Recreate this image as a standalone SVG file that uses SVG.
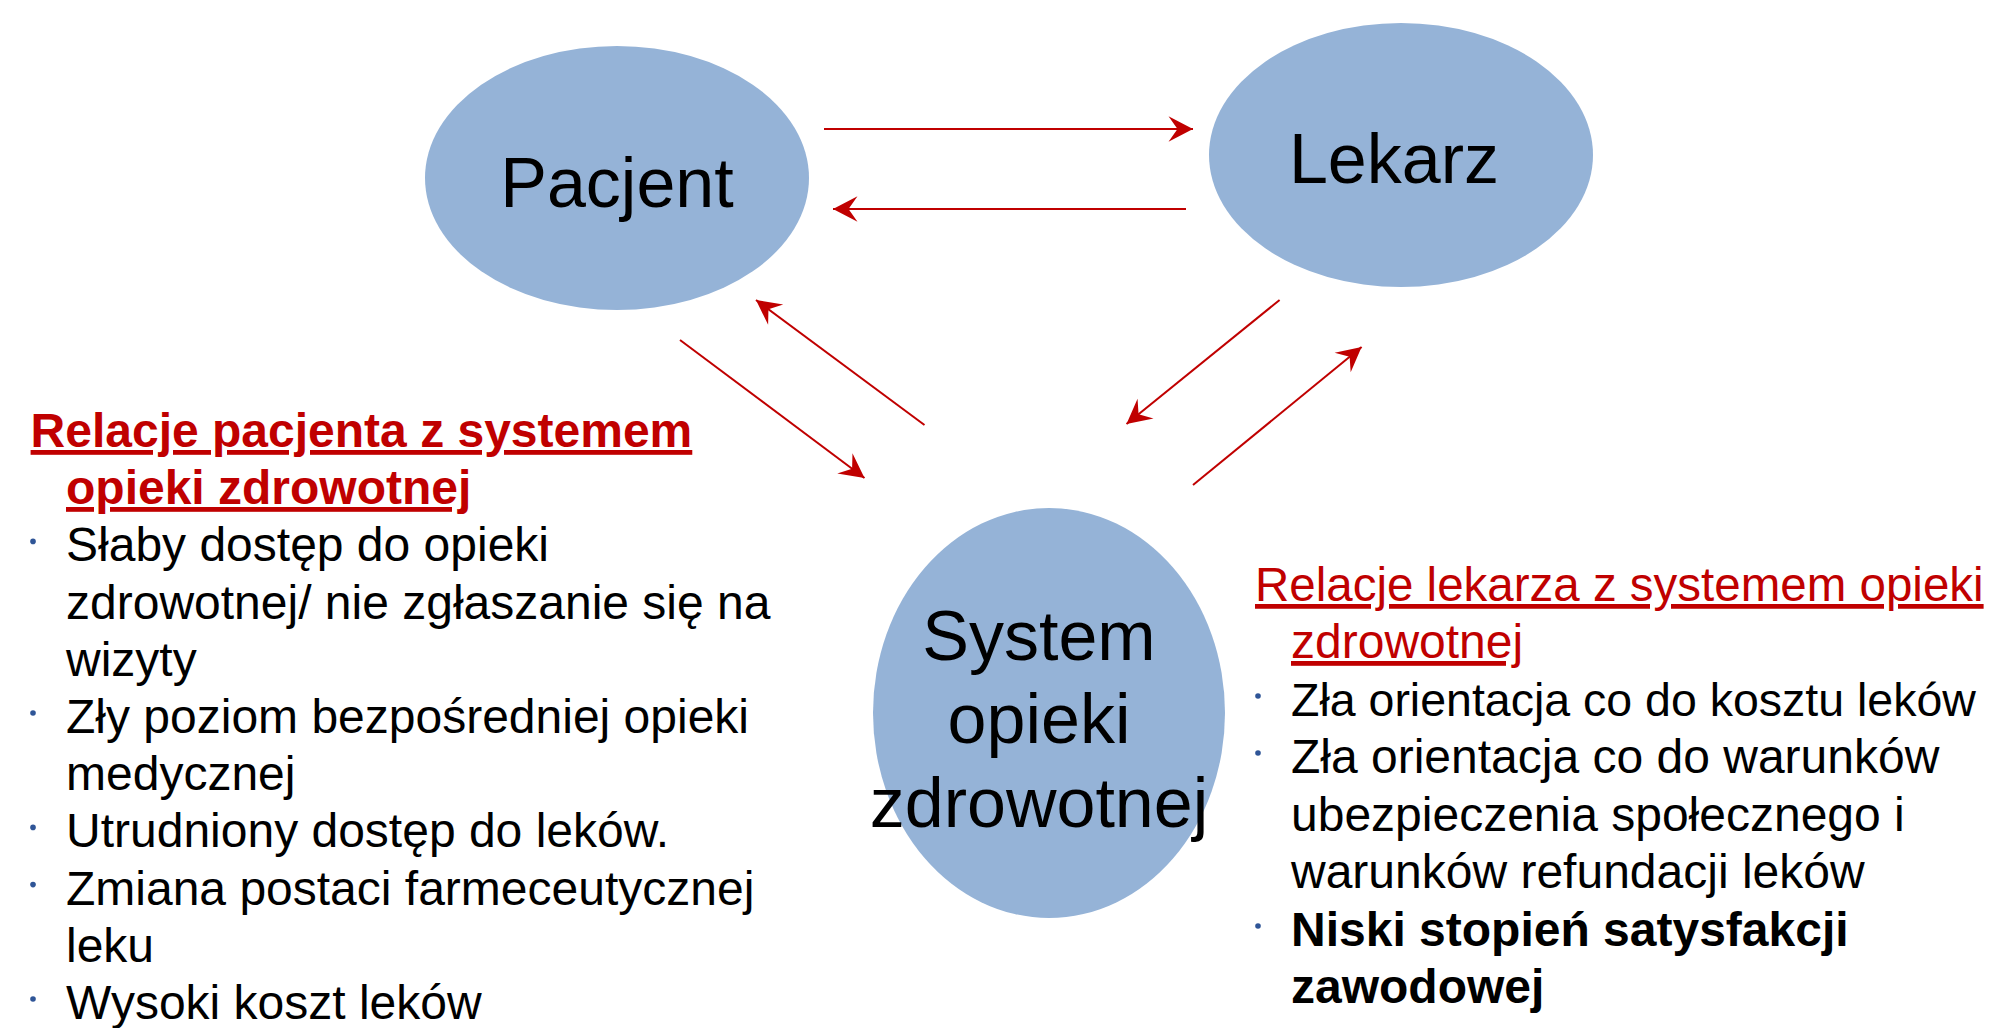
<svg xmlns="http://www.w3.org/2000/svg" width="1990" height="1028" viewBox="0 0 1990 1028">
<style>
.node{fill:#95B3D7}
.lbl{font-family:"Liberation Sans",Arial,sans-serif;font-size:70px;fill:#000;text-anchor:middle}
.t{font-family:"Liberation Sans",Arial,sans-serif;font-size:48px;fill:#000}
.b{font-weight:bold}
.red{fill:#C00000;text-decoration:underline}
.dot{fill:#2F5597}
.conn line{stroke:#C00000;stroke-width:2;fill:none;marker-end:url(#ah)}
</style>
<defs>
<marker id="ah" markerUnits="userSpaceOnUse" viewBox="-26 -14 28 28" refX="0" refY="0" markerWidth="28" markerHeight="28" orient="auto">
<path d="M0,0 L-24.5,-12.7 L-15.5,0 L-24.5,12.7 Z" fill="#C00000"/>
</marker>
</defs>
<rect width="1990" height="1028" fill="#fff"/>
<g id="pacjent">
<ellipse class="node" cx="617" cy="178" rx="192" ry="132"/>
<text class="lbl" x="617" y="207">Pacjent</text>
</g>
<g id="lekarz">
<ellipse class="node" cx="1401" cy="155" rx="192" ry="132"/>
<text class="lbl" x="1394" y="183">Lekarz</text>
</g>
<g id="system">
<ellipse class="node" cx="1049" cy="713" rx="176" ry="205"/>
<text class="lbl" x="1039" y="660">System</text>
<text class="lbl" x="1039" y="743">opieki</text>
<text class="lbl" x="1039" y="827">zdrowotnej</text>
</g>
<g id="connectors" class="conn">
<line x1="824" y1="129" x2="1193" y2="129"/>
<line x1="1186" y1="209" x2="833" y2="209"/>
<line x1="680" y1="340" x2="864.5" y2="478"/>
<line x1="924.5" y1="425" x2="756" y2="300"/>
<line x1="1279.6" y1="300" x2="1126.5" y2="424"/>
<line x1="1193" y1="485" x2="1361.6" y2="347"/>
</g>
<g id="left-text">
<text class="t b red" x="30.6" y="447">Relacje pacjenta z systemem</text>
<text class="t b red" x="66" y="504">opieki zdrowotnej</text>
<circle class="dot" cx="33" cy="541.4" r="2.8"/>
<text class="t" x="66" y="561.4">Słaby dostęp do opieki</text>
<text class="t" x="66" y="618.6">zdrowotnej/ nie zgłaszanie się na</text>
<text class="t" x="66" y="675.8">wizyty</text>
<circle class="dot" cx="33" cy="713" r="2.8"/>
<text class="t" x="66" y="733">Zły poziom bezpośredniej opieki</text>
<text class="t" x="66" y="790">medycznej</text>
<circle class="dot" cx="33" cy="827.4" r="2.8"/>
<text class="t" x="66" y="847.4">Utrudniony dostęp do leków.</text>
<circle class="dot" cx="33" cy="884.6" r="2.8"/>
<text class="t" x="66" y="904.6">Zmiana postaci farmeceutycznej</text>
<text class="t" x="66" y="961.8">leku</text>
<circle class="dot" cx="33" cy="999" r="2.8"/>
<text class="t" x="66" y="1019">Wysoki koszt leków</text>
</g>
<g id="right-text">
<text class="t red" x="1255" y="601" style="font-size:47.5px">Relacje lekarza z systemem opieki</text>
<text class="t red" x="1291" y="658">zdrowotnej</text>
<circle class="dot" cx="1258" cy="696" r="2.8"/>
<text class="t" x="1291" y="716" style="font-size:46.5px">Zła orientacja co do kosztu leków</text>
<circle class="dot" cx="1258" cy="753" r="2.8"/>
<text class="t" x="1291" y="773">Zła orientacja co do warunków</text>
<text class="t" x="1291" y="831">ubezpieczenia społecznego i</text>
<text class="t" x="1291" y="888">warunków refundacji leków</text>
<circle class="dot" cx="1258" cy="926" r="2.8"/>
<text class="t b" x="1291" y="946">Niski stopień satysfakcji</text>
<text class="t b" x="1291" y="1003">zawodowej</text>
</g>
</svg>
